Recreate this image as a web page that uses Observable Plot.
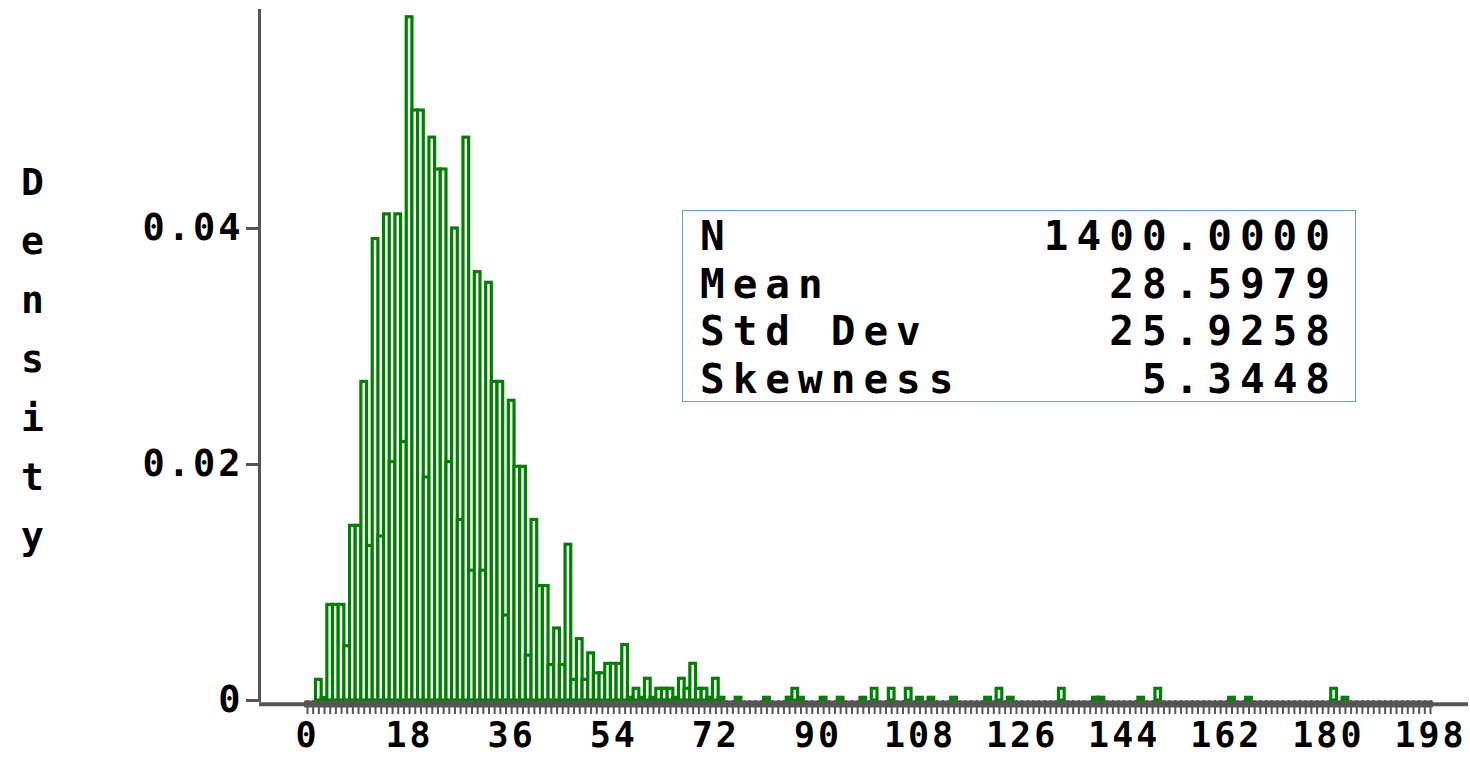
<!DOCTYPE html>
<html><head><meta charset="utf-8">
<script src="https://cdn.jsdelivr.net/npm/d3@7"></script>
<script src="https://cdn.jsdelivr.net/npm/@observablehq/plot@0.6"></script>
<style>
html,body{margin:0;padding:0;background:#fff;}
#wrap{position:relative;width:1470px;height:757px;overflow:hidden;background:#fff;}
#chart svg text{font-weight:bold;letter-spacing:3px;}
.stats{position:absolute;left:682px;top:210px;width:674px;height:192px;box-sizing:border-box;border:1.5px solid #5b9bd5;padding:2px 17px 0 17px;font-family:"DejaVu Sans Mono",monospace;font-weight:bold;font-size:41px;letter-spacing:8px;color:#000;}
.row{display:flex;justify-content:space-between;line-height:47.7px;height:47.7px;white-space:pre;}
</style></head><body>
<div id="wrap"><div id="chart"></div><div class="stats" id="stats"></div></div>
<script>
// Histogram bins (integer midpoints) and their densities
const binMid = [2,3,4,5,6,7,8,9,10,11,12,13,14,15,16,17,18,19,20,21,22,23,24,25,26,27,28,29,30,31,32,33,34,35,36,37,38,39,40,41,42,43,44,45,46,47,48,49,50,51,52,53,54,55,56,
  57,58,59,60,61,62,63,64,65,66,67,68,69,70,71,72,73,76,81,85,86,87,91,94,98,100,103,106,108,110,114,120,122,124,133,139,140,147,150,163,166,181,183];
const binDensity = [0.00175,0.0002,0.0081,0.0081,0.0081,0.0046,0.0148,0.0148,0.0270,0.0131,0.0391,0.0139,0.0412,0.0202,0.0412,0.0219,0.0579,0.0500,0.0500,0.0189,
  0.0477,0.0450,0.0450,0.0202,0.0400,0.0153,0.0477,0.0110,0.0363,0.0110,0.0354,0.0270,0.0270,0.0072,0.0254,0.0198,0.0198,0.0038,0.0153,0.0097,
  0.0097,0.0030,0.0061,0.0030,0.0132,0.00175,0.0052,0.00175,0.0040,0.0023,0.0023,0.0031,0.0031,0.0031,0.0047,
  0.00023,0.00099,0.00023,0.00184,0.00023,0.00099,0.00099,0.00099,0.00023,0.00184,0.00099,0.00311,0.00099,0.00099,0.00023,0.00184,0.00023,0.00023,0.00023,0.00023,
  0.00099,0.00023,0.00023,0.00023,0.00023,0.00099,0.00099,0.00099,0.00023,0.00023,0.00023,0.00023,0.00099,0.00023,0.00099,0.00023,0.00023,0.00023,0.00099,0.00023,
  0.00023,0.00099,0.00023];
const xMin = 0, xMax = 198;
const xTickLabels = [0,18,36,54,72,90,108,126,144,162,180,198];
const yTickValues = [0,0.02,0.04];
const yTickLabels = ["0","0.02","0.04"];
const yTitle = "Density";
const statNames = ["N","Mean","Std Dev","Skewness"];
const statValues = ["1400.0000","28.5979","25.9258","5.3448"];

const bars = binMid.map((v,i)=>({v, d: binDensity[i]}));
const minorTicks = d3.range(xMin, xMax + 1);

const plot = Plot.plot({
  width:1470, height:757,
  marginLeft:259, marginRight:2, marginTop:10, marginBottom:57,
  x:{domain:[xMin,xMax], insetLeft:48, insetRight:38, axis:null},
  y:{domain:[0,0.058475], axis:null},
  style:{fontFamily:'"DejaVu Sans Mono", monospace', background:"white", color:"black"},
  marks:[
    Plot.rectY(bars,{x1:d=>d.v-0.5,x2:d=>d.v+0.5,y1:0,y2:"d",fill:"white",stroke:"#008000",strokeWidth:3.2}),
    Plot.ruleY([0],{stroke:"#555",strokeWidth:4,dy:3.7}),
    Plot.ruleY([0],{x1:xMin-0.5,x2:xMax+0.5,stroke:"#555",strokeWidth:7,dy:3.5}),
    Plot.axisX({ticks:minorTicks,tickSize:14,stroke:"#555",strokeWidth:2,fill:"none",label:null}),
    Plot.axisX({ticks:xTickLabels,tickSize:0,tickPadding:22,fill:"black",fontSize:35,label:null,tickFormat:d=>String(d)}),
    Plot.frame({anchor:"left",stroke:"#555",strokeWidth:3}),
    Plot.axisY({ticks:yTickValues,tickSize:13,tickPadding:3,stroke:"#555",strokeWidth:3,fill:"black",fontSize:37,label:null,
      tickFormat:d=>yTickLabels[yTickValues.indexOf(d)]})
  ]
});
document.getElementById("chart").appendChild(plot);

// vertical stacked y-axis title
const g = d3.select(plot).append("g");
yTitle.split("").forEach((ch,i)=>{
  g.append("text").attr("x",34).attr("y",182+59*i).attr("text-anchor","middle")
   .attr("dominant-baseline","central").attr("font-size",38).attr("font-family",'"DejaVu Sans Mono", monospace')
   .attr("fill","black").text(ch);
});

// statistics box
const box = document.getElementById("stats");
statNames.forEach((n,i)=>{
  const r = document.createElement("div"); r.className="row";
  const a = document.createElement("span"); a.textContent=n;
  const b = document.createElement("span"); b.textContent=statValues[i];
  r.appendChild(a); r.appendChild(b); box.appendChild(r);
});
</script>
</body></html>
